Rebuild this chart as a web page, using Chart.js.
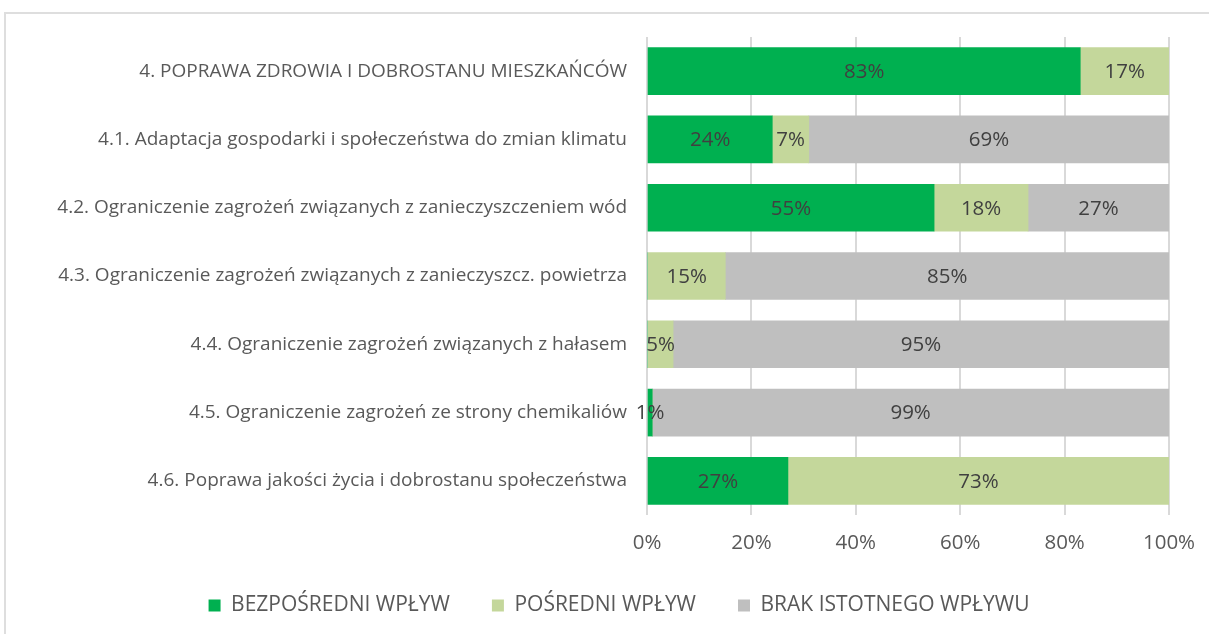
<!DOCTYPE html>
<html lang="pl">
<head>
<meta charset="UTF-8">
<title>Wpływ na zdrowie i dobrostan mieszkańców</title>
<script src="https://cdn.jsdelivr.net/npm/chart.js@4"></script>
<style>
  html, body { margin: 0; padding: 0; background: #fff; overflow: hidden; }
  #frame {
    position: absolute; left: 4px; top: 12px;
    width: 1230px; height: 640px;
    border: 2px solid #dedede; box-sizing: border-box;
  }
  #chart { position: absolute; left: -2px; top: -2px; }
</style>
</head>
<body>
<div id="frame"><canvas id="chart" width="1230" height="614"></canvas></div>
<script>
const categories = [
  '4. POPRAWA ZDROWIA I DOBROSTANU MIESZKAŃCÓW',
  '4.1. Adaptacja gospodarki i społeczeństwa do zmian klimatu',
  '4.2. Ograniczenie zagrożeń związanych z zanieczyszczeniem wód',
  '4.3. Ograniczenie zagrożeń związanych z zanieczyszcz. powietrza',
  '4.4. Ograniczenie zagrożeń związanych z hałasem',
  '4.5. Ograniczenie zagrożeń ze strony chemikaliów',
  '4.6. Poprawa jakości życia i dobrostanu społeczeństwa'
];
const bezposredni = [83, 24, 55, 0, 0, 1, 27];
const posredni    = [17, 7, 18, 15, 5, 0, 73];
const brak        = [0, 69, 27, 85, 95, 99, 0];
const seriesNames = ['BEZPOŚREDNI WPŁYW', 'POŚREDNI WPŁYW', 'BRAK ISTOTNEGO WPŁYWU'];
const xTicks = [0, 20, 40, 60, 80, 100];

const FONT = 'Open Sans';

// value labels in the middle of each segment
const barLabels = {
  id: 'barLabels',
  afterDatasetsDraw(chart) {
    const ctx = chart.ctx;
    ctx.save();
    ctx.font = '20.5px "' + FONT + '"';
    ctx.fillStyle = '#404040';
    ctx.textAlign = 'center';
    ctx.textBaseline = 'middle';
    chart.data.datasets.forEach((ds, i) => {
      chart.getDatasetMeta(i).data.forEach((bar, j) => {
        const v = ds.data[j];
        if (!v) return;
        const p = bar.getProps(['x', 'y', 'base'], true);
        ctx.fillText(v + '%', (p.x + p.base) / 2, p.y + 1);
      });
    });
    ctx.restore();
  }
};

new Chart(document.getElementById('chart'), {
  type: 'bar',
  data: {
    labels: categories,
    datasets: [
      { label: seriesNames[0], data: bezposredni, backgroundColor: '#00b050' },
      { label: seriesNames[1], data: posredni, backgroundColor: '#c4d79b' },
      { label: seriesNames[2], data: brak, backgroundColor: '#bfbfbf' }
    ]
  },
  options: {
    indexAxis: 'y',
    responsive: false,
    animation: false,
    barThickness: 47,
    layout: { padding: { top: 25, right: 0, bottom: 0, left: 0 } },
    scales: {
      x: {
        stacked: true, min: 0, max: 100,
        afterBuildTicks: s => { s.ticks = xTicks.map(v => ({ value: v })); },
        // keep the legend centred on the whole canvas, inset only the plot
        afterFit: s => { s.height = 38; s.paddingRight = 65; },
        grid: { color: '#d9d9d9', lineWidth: 2, drawTicks: false },
        border: { display: false },
        ticks: { color: '#595959', padding: 16, font: { family: FONT, size: 20.5 }, callback: v => v + '%' }
      },
      y: {
        stacked: true,
        afterFit: s => { s.width = 643; s.paddingTop = 0; s.paddingBottom = 0; },
        grid: { display: false },
        border: { display: false },
        ticks: { color: '#595959', padding: 12, font: { family: FONT, size: 19 } }
      }
    },
    plugins: {
      legend: {
        position: 'bottom',
        labels: {
          color: '#595959', boxWidth: 12, boxHeight: 12, padding: 42,
          font: { family: FONT, size: 21 }
        }
      },
      tooltip: { enabled: false }
    }
  },
  plugins: [barLabels]
});
</script>
</body>
</html>
